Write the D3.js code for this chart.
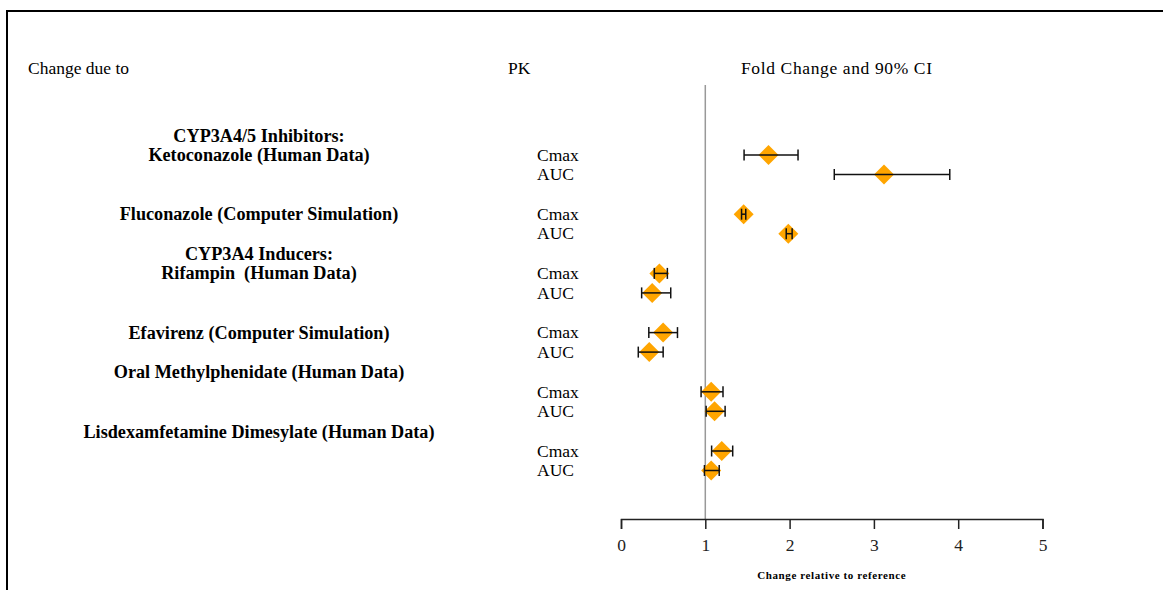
<!DOCTYPE html>
<html>
<head>
<meta charset="utf-8">
<script src="https://cdn.jsdelivr.net/npm/d3@7"></script>
<style>
  body { margin: 0; background: #fff; }
  svg { display: block; font-family: "Liberation Serif", "Times New Roman", serif; }
  .pre { white-space: pre; }
</style>
</head>
<body>
<div id="chart"></div>
<script>
// datos
const groupLabels = [
  ["CYP3A4/5 Inhibitors:", "Ketoconazole (Human Data)"],
  ["Fluconazole (Computer Simulation)"],
  ["CYP3A4 Inducers:", "Rifampin  (Human Data)"],
  ["Efavirenz (Computer Simulation)"],
  ["Oral Methylphenidate (Human Data)"],
  ["Lisdexamfetamine Dimesylate (Human Data)"]
];
const pkParams = ["Cmax", "AUC"];
const cmaxFold = [1.75, 1.455, 0.455, 0.50, 1.07, 1.195];
const cmaxLow  = [1.46, 1.43, 0.395, 0.33, 0.95, 1.075];
const cmaxHigh = [2.10, 1.48, 0.55, 0.67, 1.21, 1.325];
const aucFold  = [3.12, 1.985, 0.37, 0.335, 1.11, 1.07];
const aucLow   = [2.53, 1.96, 0.245, 0.205, 1.01, 0.99];
const aucHigh  = [3.90, 2.03, 0.59, 0.50, 1.235, 1.165];
const xTicks = [0, 1, 2, 3, 4, 5];

// label de grupo sube una fila en los dos ultimos
const labelShift = [0, 0, 0, 0, -1, -1];

const width = 1163, height = 590;
const svg = d3.select("#chart").append("svg")
  .attr("width", width)
  .attr("height", height);

// marco
svg.append("path")
  .attr("d", "M7,600 L7,11 L1170,11")
  .attr("fill", "none")
  .attr("stroke", "#000")
  .attr("stroke-width", 2);

const x = d3.scaleLinear().domain([0, 5]).range([621, 1042.5]);
const yGroup = d3.scaleLinear().domain([0, 5]).range([155, 451]);
const rowGap = 19.5;

const rows = [];
groupLabels.forEach((g, i) => {
  rows.push({ g: i, k: 0, fold: cmaxFold[i], lo: cmaxLow[i], hi: cmaxHigh[i] });
  rows.push({ g: i, k: 1, fold: aucFold[i], lo: aucLow[i], hi: aucHigh[i] });
});
const yRow = d => yGroup(d.g) + d.k * rowGap;

// encabezados
svg.append("text").attr("x", 28).attr("y", 74).attr("font-size", 17.5).text("Change due to");
svg.append("text").attr("x", 508).attr("y", 74).attr("font-size", 17.5).text("PK");
svg.append("text").attr("x", 741).attr("y", 74).attr("font-size", 17.5)
  .attr("textLength", 191).text("Fold Change and 90% CI");

// etiquetas de grupo
groupLabels.forEach((lines, i) => {
  const yLast = yGroup(i) + labelShift[i] * rowGap;
  lines.forEach((line, j) => {
    svg.append("text")
      .attr("class", "pre")
      .attr("x", 259)
      .attr("y", yLast - (lines.length - 1 - j) * rowGap)
      .attr("dy", "0.33em")
      .attr("text-anchor", "middle")
      .attr("font-size", 18.2)
      .attr("font-weight", "bold")
      .text(line);
  });
});

// Cmax / AUC
svg.selectAll(".pk").data(rows).enter().append("text")
  .attr("class", "pk")
  .attr("x", 537)
  .attr("y", d => yRow(d))
  .attr("dy", "0.33em")
  .attr("font-size", 17.5)
  .text(d => pkParams[d.k]);

// linea de referencia en 1
svg.append("line")
  .attr("x1", x(1)).attr("x2", x(1))
  .attr("y1", 85).attr("y2", 519)
  .attr("stroke", "#999")
  .attr("stroke-width", 1.5);

// eje x
const axis = svg.append("g")
  .attr("transform", "translate(0,519)")
  .call(d3.axisBottom(x).tickValues(xTicks).tickSizeOuter(0).tickSize(10).tickFormat(d3.format("d")));
axis.select(".domain").attr("stroke", "#222").attr("stroke-width", 1.5);
axis.selectAll(".tick line").attr("stroke", "#222").attr("stroke-width", 1.5);
axis.selectAll("text")
  .attr("font-family", "Liberation Serif, serif")
  .attr("font-size", 17.5)
  .attr("fill", "#222")
  .attr("y", 20);

svg.append("text")
  .attr("x", x(2.5))
  .attr("y", 579)
  .attr("text-anchor", "middle")
  .attr("font-size", 11)
  .attr("font-weight", "bold")
  .attr("letter-spacing", 0.6)
  .text("Change relative to reference");

// diamantes
svg.selectAll(".pt").data(rows).enter().append("path")
  .attr("class", "pt")
  .attr("d", d3.symbol(d3.symbolSquare, 200))
  .attr("transform", d => `translate(${x(d.fold)},${yRow(d)}) rotate(45)`)
  .attr("fill", "#FFA500");

// intervalos
const ci = svg.selectAll(".ci").data(rows).enter().append("g").attr("class", "ci")
  .attr("stroke", "#111").attr("stroke-width", 1.5);
ci.append("line")
  .attr("x1", d => x(d.lo)).attr("x2", d => x(d.hi))
  .attr("y1", yRow).attr("y2", yRow);
ci.append("line")
  .attr("x1", d => x(d.lo)).attr("x2", d => x(d.lo))
  .attr("y1", d => yRow(d) - 5.5).attr("y2", d => yRow(d) + 5.5);
ci.append("line")
  .attr("x1", d => x(d.hi)).attr("x2", d => x(d.hi))
  .attr("y1", d => yRow(d) - 5.5).attr("y2", d => yRow(d) + 5.5);
</script>
</body>
</html>
